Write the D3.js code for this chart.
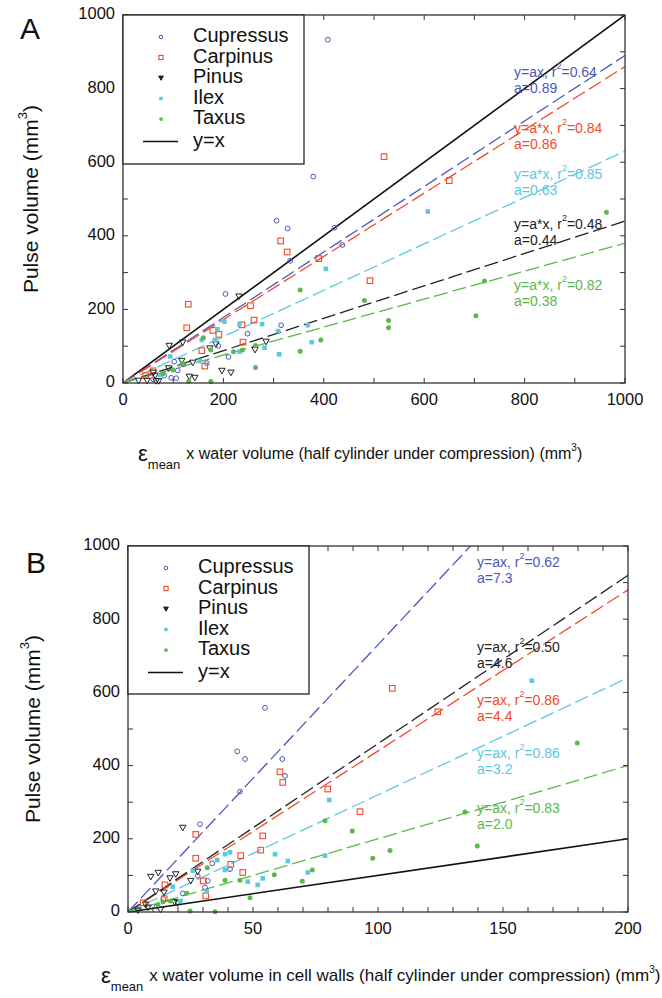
<!DOCTYPE html>
<html><head><meta charset="utf-8">
<script src="https://cdn.jsdelivr.net/npm/d3@7/dist/d3.min.js"></script>
<style>
body{margin:0;background:#fff}
text{font-family:"Liberation Sans",Arial,Helvetica,sans-serif}
</style>
</head><body>
<svg id="chart" width="662" height="998"></svg>
<script>
// ---------- data ----------
const species = ["Cupressus","Carpinus","Pinus","Ilex","Taxus"];
const speciesColors = ["#4a58b8","#f24a2a","#222222","#5cc8e0","#5cb84a"];
const speciesShapes = ["circle","square","triangle","filledSquare","dot"];

// Panel A: eps_mean x water volume (mm3) vs pulse volume (mm3)
const cupressusA = [[408,933],[379,561],[306,441],[328,420],[421,422],[437,375],[333,332],[204,242],[248,134],[315,157],[190,101],[210,71],[167,54],[102,58],[109,34],[82,20],[96,14],[106,13],[120,51],[60,10]];
const carpinusA = [[520,615],[650,550],[314,386],[327,356],[390,338],[492,278],[130,214],[127,150],[254,210],[261,171],[237,158],[179,143],[191,132],[239,111],[157,88],[163,46],[60,33],[45,20]];
const pinusA = [[231,235],[92,101],[119,110],[185,105],[173,94],[263,90],[285,112],[117,60],[139,55],[91,40],[60,28],[64,20],[197,33],[215,28],[132,17],[143,14],[66,5],[71,5],[31,6],[48,6]];
const ilexA = [[607,466],[404,310],[202,167],[232,160],[277,160],[188,146],[157,117],[183,117],[232,85],[282,96],[311,78],[309,141],[368,157],[376,111],[94,72],[153,60],[74,22]];
const taxusA = [[963,464],[720,277],[703,183],[529,170],[529,150],[481,224],[353,253],[394,117],[353,86],[264,102],[264,42],[238,90],[160,123],[175,90],[220,85],[119,53],[100,35],[131,5],[175,4],[80,25]];

// Panel B: eps_mean x water volume in cell walls (mm3) vs pulse volume (mm3)
const cupressusB = [[54.8,558],[43.7,439],[46.8,418],[61.7,418],[62.8,372],[44.8,329],[28.8,240],[33.7,133],[40.8,117],[27.9,99],[31.9,85],[30.8,67],[21.9,51],[14.1,35],[11.5,15]];
const carpinusB = [[105.7,611],[123.9,547],[60.8,383],[61.9,354],[79.9,336],[92.8,274],[27.1,212],[27.1,147],[53.9,208],[53.1,169],[45.1,154],[41.1,130],[45.9,108],[30.1,85],[31.1,44],[14.8,74],[14.5,36],[6.1,25]];
const pinusB = [[21.9,230],[9.1,96],[12.1,107],[16.8,92],[19.1,103],[25.1,85],[27.9,110],[11.1,56],[14.4,53],[18.6,27],[19.9,24],[7,20],[8,12],[13,6],[4,4]];
const ilexB = [[161.5,632],[80.5,306],[40.8,163],[38.8,158],[35.7,142],[58.8,158],[78.8,154],[38.8,115],[63.9,139],[47.9,83],[51.9,74],[53.9,92],[71.9,108],[31.5,56],[25.9,113],[17.9,69],[21,30]];
const taxusB = [[179.7,462],[134.8,273],[139.7,180],[97.9,147],[104.8,168],[78.8,249],[89.7,221],[73.7,115],[69.7,84],[58.5,102],[48.8,39],[44.8,87],[38.8,87],[31.7,121],[23.5,51],[24.8,3],[34.8,1],[17,30],[14,28],[12,20]];

// regression fits y = a*x (order: Cupressus, Carpinus, Pinus, Ilex, Taxus)
const slopesA = [0.89,0.86,0.44,0.63,0.38];
const r2A = ["0.64","0.84","0.48","0.85","0.82"];
const formulaA = ["y=ax","y=a*x","y=a*x","y=a*x","y=a*x"];
const aLabelA = ["0.89","0.86","0.44","0.63","0.38"];
const slopesB = [7.3,4.4,4.6,3.2,2.0];
const r2B = ["0.62","0.86","0.50","0.86","0.83"];
const formulaB = ["y=ax","y=ax","y=ax","y=ax","y=ax"];
const aLabelB = ["7.3","4.4","4.6","3.2","2.0"];

// ticks
const xTickLabelsA = [0,200,400,600,800,1000];
const xTickLabelsB = [0,50,100,150,200];
const yTickLabels = [0,200,400,600,800,1000];

// ---------- drawing ----------
const svg = d3.select("#chart");

function markerPath(shape, size){
  if(shape==="triangle"){
    const s=size; // downward triangle
    return `M${-s},${-s*0.8}L${s},${-s*0.8}L0,${s*0.95}Z`;
  }
  return null;
}

function drawMarker(g, shape, color, x, y, big){
  const k = big ? 1 : 0.75;
  if(shape==="circle"){
    g.append("circle").attr("cx",x).attr("cy",y).attr("r",2.4*k)
      .attr("fill","none").attr("stroke",color).attr("stroke-width",1);
  } else if(shape==="square"){
    const s=5.6*k;
    g.append("rect").attr("x",x-s/2).attr("y",y-s/2).attr("width",s).attr("height",s)
      .attr("fill","none").attr("stroke",color).attr("stroke-width",1.1);
  } else if(shape==="triangle"){
    g.append("path").attr("d",markerPath("triangle",3.2*k)).attr("transform",`translate(${x},${y})`)
      .attr("fill",big?"none":color).attr("stroke",color).attr("stroke-width",1);
  } else if(shape==="filledSquare"){
    const s=4.6*k;
    g.append("rect").attr("x",x-s/2).attr("y",y-s/2).attr("width",s).attr("height",s)
      .attr("fill",color);
  } else {
    g.append("circle").attr("cx",x).attr("cy",y).attr("r",2.5*k).attr("fill",color);
  }
}

function drawPanel(cfg){
  const x = d3.scaleLinear().domain(cfg.xDomain).range([cfg.left,cfg.right]);
  const y = d3.scaleLinear().domain([0,1000]).range([cfg.bottom,cfg.top]);
  const g = svg.append("g");
  const clipId = "clip"+cfg.id;
  svg.append("clipPath").attr("id",clipId).append("rect")
    .attr("x",cfg.left).attr("y",cfg.top).attr("width",cfg.right-cfg.left).attr("height",cfg.bottom-cfg.top);

  // y = x reference line
  const lineGen = d3.line().x(d=>x(d[0])).y(d=>y(d[1]));
  const xmax = cfg.xDomain[1];
  g.append("path").attr("clip-path",`url(#${clipId})`)
    .attr("d",lineGen([[0,0],[xmax,xmax]])).attr("stroke","#111").attr("stroke-width",1.6).attr("fill","none");

  // fitted dashed lines
  cfg.slopes.forEach((a,i)=>{
    g.append("path").attr("clip-path",`url(#${clipId})`)
      .attr("d",lineGen([[0,0],[xmax,a*xmax]]))
      .attr("stroke",speciesColors[i]).attr("stroke-width",1.3).attr("fill","none")
      .attr("stroke-dasharray","14,5");
  });

  // points
  cfg.sets.forEach((pts,i)=>{
    pts.forEach(p=>drawMarker(g,speciesShapes[i],speciesColors[i],x(p[0]),y(p[1]),true));
  });

  // annotations
  cfg.annot.forEach((an,i)=>{
    const si = an.s;
    const t = g.append("text").attr("x",x(an.x)).attr("y",y(an.y)).attr("font-size",14)
      .attr("fill",speciesColors[si]).attr("dominant-baseline","middle");
    t.append("tspan").text(cfg.formula[si]+", r");
    t.append("tspan").attr("font-size",9).attr("dy",-6).text("2");
    t.append("tspan").attr("dy",6).text("="+cfg.r2[si]);
    g.append("text").attr("x",x(an.x)).attr("y",y(an.y)+16).attr("font-size",14)
      .attr("fill",speciesColors[si]).attr("dominant-baseline","middle").text("a="+cfg.aLabel[si]);
  });

  // frame
  g.append("rect").attr("x",cfg.left).attr("y",cfg.top).attr("width",cfg.right-cfg.left)
    .attr("height",cfg.bottom-cfg.top).attr("fill","none").attr("stroke","#333").attr("stroke-width",1.3);
  // ticks inward on all sides
  const tl = 5;
  d3.range(cfg.xDomain[0],cfg.xDomain[1]+1e-9,cfg.xMinor).forEach(v=>{
    g.append("line").attr("x1",x(v)).attr("x2",x(v)).attr("y1",cfg.bottom).attr("y2",cfg.bottom-tl).attr("stroke","#333");
    g.append("line").attr("x1",x(v)).attr("x2",x(v)).attr("y1",cfg.top).attr("y2",cfg.top+tl).attr("stroke","#333");
  });
  d3.range(0,1001,100).forEach(v=>{
    g.append("line").attr("y1",y(v)).attr("y2",y(v)).attr("x1",cfg.left).attr("x2",cfg.left+tl).attr("stroke","#333");
    g.append("line").attr("y1",y(v)).attr("y2",y(v)).attr("x1",cfg.right).attr("x2",cfg.right-tl).attr("stroke","#333");
  });
  // tick labels
  cfg.xLabels.forEach(v=>{
    g.append("text").attr("x",x(v)).attr("y",cfg.bottom+18).attr("text-anchor","middle")
      .attr("dominant-baseline","middle").attr("font-size",16.5).attr("fill","#111").text(v);
  });
  yTickLabels.forEach(v=>{
    g.append("text").attr("x",cfg.left-8).attr("y",y(v)).attr("text-anchor","end")
      .attr("dominant-baseline","middle").attr("font-size",16.5).attr("fill","#111").text(v);
  });

  // legend
  const lg = g.append("g");
  lg.append("rect").attr("x",cfg.left).attr("y",cfg.top).attr("width",cfg.legendW).attr("height",cfg.legendH)
    .attr("fill","#fff").attr("stroke","#222").attr("stroke-width",1.3);
  species.forEach((s,i)=>{
    const yy = cfg.top + 22 + i*20.5;
    drawMarker(lg,speciesShapes[i],speciesColors[i],cfg.left+38,yy,false);
    lg.append("text").attr("x",cfg.left+70).attr("y",yy).attr("dominant-baseline","middle")
      .attr("font-size",20).attr("fill","#111").text(s);
  });
  const yy = cfg.top + 22 + 5*20.5 + 2;
  lg.append("line").attr("x1",cfg.left+20).attr("x2",cfg.left+55).attr("y1",yy).attr("y2",yy)
    .attr("stroke","#111").attr("stroke-width",1.6);
  lg.append("text").attr("x",cfg.left+70).attr("y",yy).attr("dominant-baseline","middle")
    .attr("font-size",20).attr("fill","#111").text("y=x");

  // y-axis title
  const cy = (cfg.top+cfg.bottom)/2;
  const yt = svg.append("text").attr("transform",`translate(${cfg.yTitleX},${cy}) rotate(-90)`)
    .attr("text-anchor","middle").attr("dominant-baseline","middle").attr("font-size",21).attr("fill","#111");
  yt.append("tspan").text("Pulse volume (mm");
  yt.append("tspan").attr("font-size",13).attr("dy",-8).text("3");
  yt.append("tspan").attr("dy",8).text(")");

  // x-axis title
  const xt = svg.append("text").attr("x",cfg.xTitleX).attr("y",cfg.xTitleY)
    .attr("dominant-baseline","middle").attr("font-size",cfg.xTitleSize).attr("fill","#111");
  xt.append("tspan").attr("font-size",22).text("ε");
  xt.append("tspan").attr("font-size",13).attr("dy",11).text("mean");
  xt.append("tspan").attr("dy",-11).attr("dx",6).text(cfg.xTitle);
  xt.append("tspan").attr("font-size",10).attr("dy",-7).text("3");
  xt.append("tspan").attr("dy",7).text(")");

  // panel letter
  svg.append("text").attr("x",cfg.letterX).attr("y",cfg.letterY).attr("font-size",30).attr("fill","#111").text(cfg.id);
}

drawPanel({
  id:"A", left:123, right:625, top:15, bottom:383, xDomain:[0,1000], xMinor:100,
  sets:[cupressusA,carpinusA,pinusA,ilexA,taxusA], slopes:slopesA, r2:r2A, formula:formulaA, aLabel:aLabelA,
  annot:[{s:0,x:779,y:842},{s:1,x:779,y:690},{s:3,x:779,y:565},{s:2,x:779,y:429},{s:4,x:779,y:264}],
  xLabels:xTickLabelsA, legendW:181, legendH:149,
  yTitleX:32, xTitleX:138, xTitleY:455, xTitleSize:16,
  xTitle:"x  water volume (half cylinder under compression) (mm",
  letterX:20, letterY:39
});
drawPanel({
  id:"B", left:128, right:628, top:546, bottom:912, xDomain:[0,200], xMinor:10,
  sets:[cupressusB,carpinusB,pinusB,ilexB,taxusB], slopes:slopesB, r2:r2B, formula:formulaB, aLabel:aLabelB,
  annot:[{s:0,x:139.6,y:953},{s:2,x:139.6,y:721},{s:1,x:139.6,y:576},{s:3,x:139.6,y:432},{s:4,x:139.6,y:281}],
  xLabels:xTickLabelsB, legendW:181, legendH:148,
  yTitleX:34, xTitleX:101, xTitleY:977, xTitleSize:17,
  xTitle:"x water volume in cell walls (half cylinder under compression) (mm",
  letterX:26, letterY:573
});
</script>
</body></html>
